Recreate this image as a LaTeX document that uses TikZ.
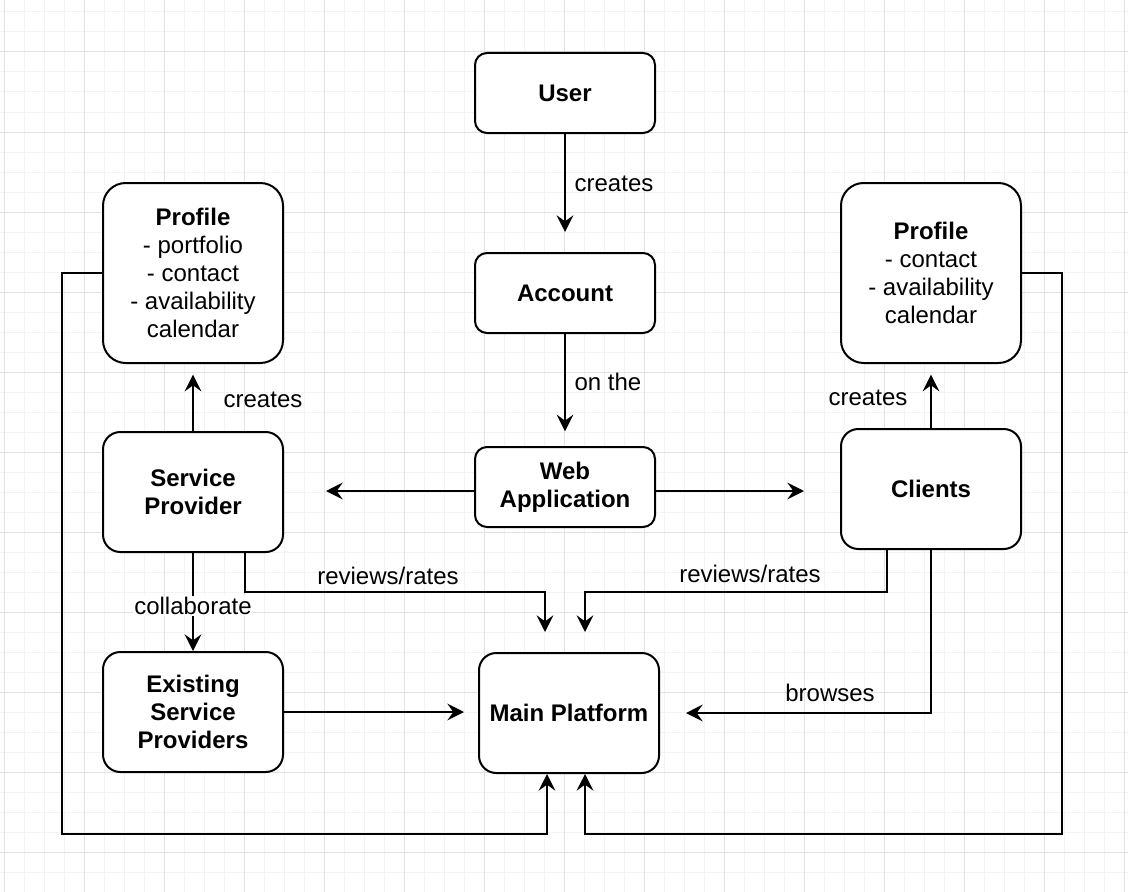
\documentclass[tikz,border=0pt]{standalone}
\usepackage{fontspec}
\setmainfont{Liberation Sans}
\usetikzlibrary{arrows.meta,calc}
\newcommand\dfont{\fontsize{18pt}{21pt}\selectfont}
\definecolor{gminor}{HTML}{F3F3F3}
\definecolor{gmajor}{HTML}{E2E2E2}
\begin{document}
\begin{tikzpicture}[x=0.75pt,y=-0.75pt,
  box/.style={draw, line width=1.5pt, align=center, inner sep=0pt, font=\dfont\bfseries, fill=white},
  small/.style={box, rounded corners=9pt, minimum width=135pt, minimum height=60pt},
  mid/.style={box, rounded corners=13pt, minimum width=135pt, minimum height=90pt},
  big/.style={box, rounded corners=17pt, minimum width=135pt, minimum height=135pt, font=\dfont},
  arr/.style={-{Stealth[length=12.5pt,width=12.5pt,inset=4.5pt]}, line width=1.5pt},
  lbl/.style={font=\dfont, inner sep=1pt},
  minor/.style={draw=gminor, line width=0.75pt},
  major/.style={draw=gmajor, line width=0.75pt}]
\useasboundingbox (0,0) rectangle (1128,892);
\fill[white] (0,0) rectangle (1128,892);
% grid
\foreach \i in {0,...,56} {\draw[minor] (4+20*\i,0) -- (4+20*\i,892);}
\foreach \i in {0,...,44} {\draw[minor] (0,12+20*\i) -- (1128,12+20*\i);}
\foreach \i in {0,...,14} {\draw[major] (4+80*\i,0) -- (4+80*\i,892);}
\foreach \i in {0,...,11} {\draw[major] (0,52+80*\i) -- (1128,52+80*\i);}
% nodes
\node[small] (user) at (565,93) {User};
\node[small] (account) at (565,293) {Account};
\node[small] (web) at (565,487) {Web\\Application};
\node[big] (prof1) at (193,273) {{\bfseries Profile}\\- portfolio\\- contact\\- availability\\calendar};
\node[big] (prof2) at (931,273) {{\bfseries Profile}\\- contact\\- availability\\calendar};
\node[mid] (sp) at (193,492) {Service\\Provider};
\node[mid] (cli) at (931,489) {Clients};
\node[mid] (esp) at (193,712) {Existing\\Service\\Providers};
\node[mid] (main) at (569,713) {Main Platform};
% connectors
\draw[arr, shorten >=15pt] (user) -- (account);
\draw[arr, shorten >=11pt] (account) -- (web);
\draw[arr, shorten >=31.5pt] ($(web.west)+(0,4)$) -- ($(web.west -| sp.east)+(0,4)$);
\draw[arr, shorten >=27pt] ($(web.east)+(0,4)$) -- ($(web.east -| cli.west)+(0,4)$);
\draw[arr, shorten >=8pt] (sp) -- (prof1);
\draw[arr, shorten >=8pt] (cli) -- (prof2);
\draw[arr] (sp) -- (esp);
\draw[arr, shorten >=10.5pt] (esp) -- (esp -| main.west);
\draw[arr, shorten >=15pt] ($(sp.south)+(52,0)$) |- ($(main.north)+(-24,-60)$) -- ($(main.north)+(-24,0)$);
\draw[arr, shorten >=15pt] ($(cli.south)+(-44,0)$) |- ($(main.north)+(16,-60)$) -- ($(main.north)+(16,0)$);
\draw[arr, shorten >=19.5pt] (cli.south) |- (main.east);
\draw[arr] (prof1.west) -- ++(-40,0) |- ($(main.south)+(-22,60)$) -- ($(main.south)+(-22,0)$);
\draw[arr] (prof2.east) -- ++(40,0) |- ($(main.south)+(16,60)$) -- ($(main.south)+(16,0)$);
% labels
\node[lbl] (l1) at (614,184) {creates};
\node[lbl] (l2) at (608,382) {on the};
\node[lbl] (l3) at (263,400) {creates};
\node[lbl] (l4) at (868,398) {creates};
\node[lbl] (l5) at (388,576) {reviews/rates};
\node[lbl] (l6) at (750,574) {reviews/rates};
\node[lbl] (l7) at (830,693) {browses};
\node[lbl, fill=white] (l8) at (193,606) {collaborate};
\end{tikzpicture}
\end{document}
